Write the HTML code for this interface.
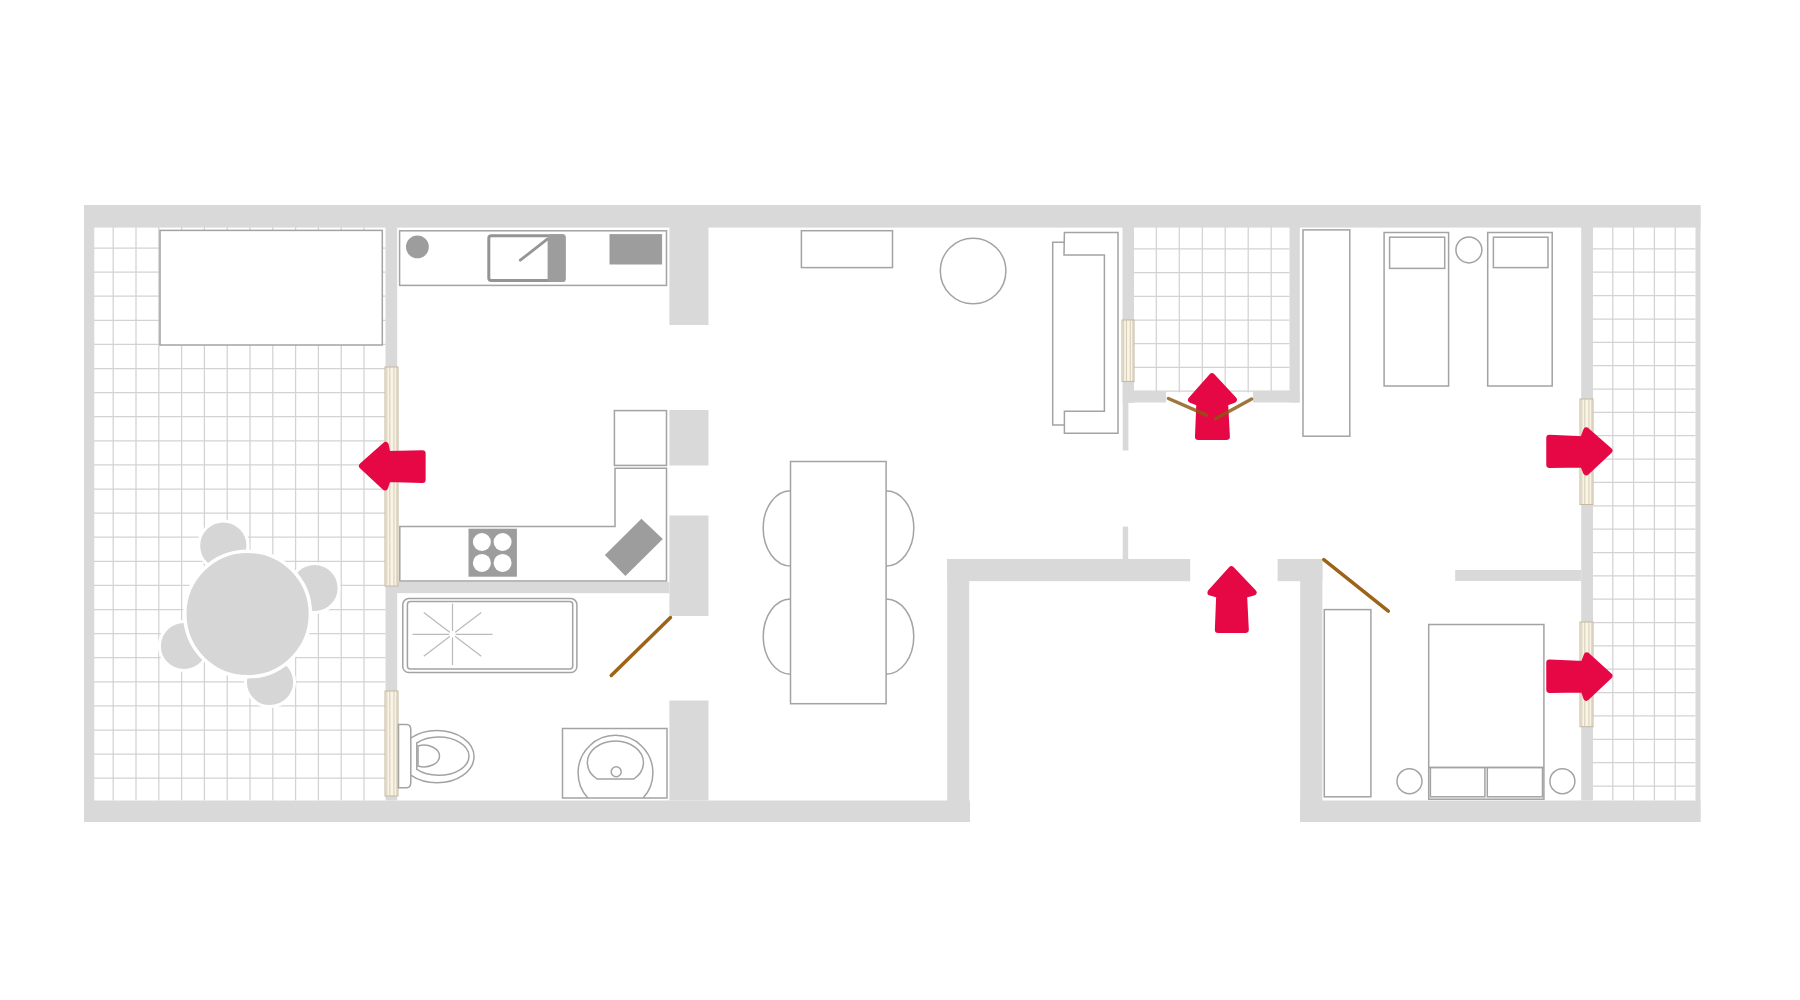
<!DOCTYPE html>
<html><head><meta charset="utf-8"><title>Floor plan</title>
<style>html,body{margin:0;padding:0;background:#fff;width:1800px;height:1000px;overflow:hidden;font-family:"Liberation Sans",sans-serif;}svg{display:block}</style>
</head><body>
<svg width="1800" height="1000" viewBox="0 0 1800 1000">
<rect width="1800" height="1000" fill="#fff"/>
<path d="M113.2 227V800.5M136.0 227V800.5M158.8 227V800.5M181.6 227V800.5M204.4 227V800.5M227.2 227V800.5M250.0 227V800.5M272.8 227V800.5M295.6 227V800.5M318.4 227V800.5M341.2 227V800.5M364.0 227V800.5M94 248.0H385.5M94 272.1H385.5M94 296.2H385.5M94 320.3H385.5M94 344.4H385.5M94 368.5H385.5M94 392.6H385.5M94 416.7H385.5M94 440.8H385.5M94 464.9H385.5M94 489.0H385.5M94 513.1H385.5M94 537.2H385.5M94 561.3H385.5M94 585.4H385.5M94 609.5H385.5M94 633.6H385.5M94 657.7H385.5M94 681.8H385.5M94 705.9H385.5M94 730.0H385.5M94 754.1H385.5M94 778.2H385.5" stroke="#d3d3d3" stroke-width="1.25" fill="none"/>
<path d="M1156.3 227V392.5M1179.3 227V392.5M1202.3 227V392.5M1225.2 227V392.5M1248.2 227V392.5M1271.2 227V392.5M1134 248.9H1289.5M1134 272.6H1289.5M1134 296.3H1289.5M1134 320.0H1289.5M1134 343.7H1289.5M1134 367.4H1289.5M1134 391.1H1289.5" stroke="#d3d3d3" stroke-width="1.25" fill="none"/>
<path d="M1612.8 227V800.5M1633.6 227V800.5M1654.4 227V800.5M1675.2 227V800.5M1593 248.9H1695.5M1593 272.2H1695.5M1593 295.6H1695.5M1593 319.0H1695.5M1593 342.3H1695.5M1593 365.7H1695.5M1593 389.0H1695.5M1593 412.4H1695.5M1593 435.7H1695.5M1593 459.1H1695.5M1593 482.4H1695.5M1593 505.8H1695.5M1593 529.1H1695.5M1593 552.5H1695.5M1593 575.8H1695.5M1593 599.2H1695.5M1593 622.5H1695.5M1593 645.9H1695.5M1593 669.2H1695.5M1593 692.6H1695.5M1593 715.9H1695.5M1593 739.3H1695.5M1593 762.6H1695.5M1593 786.0H1695.5" stroke="#d3d3d3" stroke-width="1.25" fill="none"/>
<rect x="84" y="205" width="1616.5" height="22.6" fill="#d9d9d9" />
<rect x="84" y="205" width="10.3" height="617" fill="#d9d9d9" />
<rect x="84" y="800.5" width="886" height="21.5" fill="#d9d9d9" />
<rect x="1300" y="800.5" width="400.5" height="21.5" fill="#d9d9d9" />
<rect x="1695.5" y="205" width="5.0" height="617" fill="#d9d9d9" />
<rect x="385.5" y="227" width="11.7" height="573.5" fill="#d9d9d9" />
<rect x="397" y="582" width="272.5" height="11.2" fill="#d9d9d9" />
<rect x="669.4" y="227" width="39.1" height="98" fill="#d9d9d9" />
<rect x="669.4" y="410" width="39.1" height="55.5" fill="#d9d9d9" />
<rect x="669.4" y="515.5" width="39.1" height="100.5" fill="#d9d9d9" />
<rect x="669.4" y="700.5" width="39.1" height="100.0" fill="#d9d9d9" />
<rect x="947.2" y="559" width="22.0" height="263" fill="#d9d9d9" />
<rect x="947.2" y="559" width="243.0" height="22.2" fill="#d9d9d9" />
<rect x="1277.6" y="559" width="44.8" height="22.2" fill="#d9d9d9" />
<rect x="1300.2" y="559" width="22.2" height="263" fill="#d9d9d9" />
<rect x="1122.5" y="227" width="11.5" height="176" fill="#d9d9d9" />
<rect x="1122.7" y="403" width="5.7" height="47.5" fill="#d9d9d9" />
<rect x="1122.7" y="526.6" width="5.5" height="32.4" fill="#d9d9d9" />
<rect x="1134" y="391" width="32" height="11.5" fill="#d9d9d9" />
<rect x="1253" y="391" width="46.5" height="11.5" fill="#d9d9d9" />
<rect x="1289.5" y="227" width="10.3" height="175.5" fill="#d9d9d9" />
<rect x="1581.2" y="227" width="11.8" height="573.5" fill="#d9d9d9" />
<rect x="1455.2" y="570" width="126.0" height="11" fill="#d9d9d9" />
<rect x="385" y="367" width="13" height="219" fill="#f9f4e6" stroke="#c4b8a0" stroke-width="1"/>
<path d="M386.82 367V586M389.81 367V586M393.97 367V586M396.83 367V586" stroke="#cdc2ab" stroke-width="0.8" fill="none"/>
<rect x="385" y="691" width="13" height="105" fill="#f9f4e6" stroke="#c4b8a0" stroke-width="1"/>
<path d="M386.82 691V796M389.81 691V796M393.97 691V796M396.83 691V796" stroke="#cdc2ab" stroke-width="0.8" fill="none"/>
<rect x="1122" y="320" width="12" height="61.5" fill="#f9f4e6" stroke="#c4b8a0" stroke-width="1"/>
<path d="M1123.68 320V381.5M1126.44 320V381.5M1130.28 320V381.5M1132.92 320V381.5" stroke="#cdc2ab" stroke-width="0.8" fill="none"/>
<rect x="1580" y="399" width="13" height="105.5" fill="#f9f4e6" stroke="#c4b8a0" stroke-width="1"/>
<path d="M1581.82 399V504.5M1584.81 399V504.5M1588.97 399V504.5M1591.83 399V504.5" stroke="#cdc2ab" stroke-width="0.8" fill="none"/>
<rect x="1580" y="622" width="13" height="104.70000000000005" fill="#f9f4e6" stroke="#c4b8a0" stroke-width="1"/>
<path d="M1581.82 622V726.7M1584.81 622V726.7M1588.97 622V726.7M1591.83 622V726.7" stroke="#cdc2ab" stroke-width="0.8" fill="none"/>
<rect x="160" y="230.4" width="222.3" height="114.6" fill="#fff" stroke="#a3a3a3" stroke-width="1.5"/>
<circle cx="223.3" cy="545.7" r="24.6" fill="#d6d6d6" stroke="#fff" stroke-width="3"/>
<circle cx="314.5" cy="588" r="24.6" fill="#d6d6d6" stroke="#fff" stroke-width="3"/>
<circle cx="184" cy="646" r="24.6" fill="#d6d6d6" stroke="#fff" stroke-width="3"/>
<circle cx="270" cy="682" r="24.6" fill="#d6d6d6" stroke="#fff" stroke-width="3"/>
<circle cx="247.6" cy="614" r="62.8" fill="#d6d6d6" stroke="#fff" stroke-width="3.5"/>
<rect x="399.6" y="230.8" width="266.9" height="54.6" fill="none" stroke="#a3a3a3" stroke-width="1.5"/>
<circle cx="417.4" cy="246.9" r="11.4" fill="#9d9d9d"/>
<rect x="488.8" y="235.7" width="75.3" height="44.7" rx="2.5" fill="#fff" stroke="#949494" stroke-width="3"/>
<rect x="547.6" y="234.2" width="18" height="47.7" rx="2.5" fill="#9d9d9d"/>
<line x1="520.3" y1="260.2" x2="547.3" y2="239.2" stroke="#959595" stroke-width="2.8" stroke-linecap="round"/>
<rect x="609.5" y="234.1" width="52.6" height="30.4" fill="#9d9d9d"/>
<rect x="614.4" y="410.6" width="52.1" height="54.8" fill="none" stroke="#a3a3a3" stroke-width="1.5"/>
<path d="M399.8 526.5H615V468.2H666.5V580.9H399.8Z" fill="none" stroke="#a3a3a3" stroke-width="1.5"/>
<rect x="468.5" y="528.7" width="48.4" height="48" fill="#9d9d9d"/>
<circle cx="481.9" cy="542" r="9" fill="#fff"/>
<circle cx="502.6" cy="542" r="9" fill="#fff"/>
<circle cx="481.9" cy="562.9" r="9" fill="#fff"/>
<circle cx="502.6" cy="562.9" r="9" fill="#fff"/>
<path d="M641.4 518.8L662.8 539L625.4 576L604.9 555.1Z" fill="#9d9d9d"/>
<rect x="402.8" y="598.6" width="174.1" height="73.9" rx="6" fill="none" stroke="#a3a3a3" stroke-width="1.5"/>
<rect x="407.4" y="601.6" width="165.3" height="67.4" rx="3" fill="none" stroke="#a3a3a3" stroke-width="1.5"/>
<path d="M412.5 634.3H492.5M452.5 603.5V665M423.75 612.5L481.25 656.25M423.75 656.25L481.25 612.5" stroke="#bababa" stroke-width="1.2" fill="none"/>
<circle cx="452.5" cy="634.3" r="3.2" fill="#fff"/>
<line x1="611.25" y1="675.5" x2="670.5" y2="617.5" stroke="#9b6418" stroke-width="3.5" stroke-linecap="round"/>
<path d="M398.5 724.5H406.8Q410.8 724.5 410.8 730V782.2Q410.8 787.7 406.8 787.7H398.5Z" fill="#fff" stroke="#a3a3a3" stroke-width="1.5"/>
<path d="M410.8 738A37.1 26.2 0 1 1 410.8 775.2" fill="none" stroke="#a3a3a3" stroke-width="1.5"/>
<path d="M416.8 743A30.3 19.1 0 1 1 416.8 769.4Z" fill="none" stroke="#a3a3a3" stroke-width="1.5"/>
<path d="M418 746A15.5 10.85 0 1 1 418 766Z" fill="none" stroke="#a3a3a3" stroke-width="1.5"/>
<rect x="562.5" y="728.5" width="104.5" height="69.5" fill="none" stroke="#a3a3a3" stroke-width="1.5"/>
<path d="M587.9 798A37.4 37.4 0 1 1 643.1 798" fill="none" stroke="#a3a3a3" stroke-width="1.5"/>
<path d="M597 779A28.05 21.7 0 1 1 633.8 779Z" fill="none" stroke="#a3a3a3" stroke-width="1.5"/>
<circle cx="616.2" cy="771.7" r="5" fill="none" stroke="#a3a3a3" stroke-width="1.5"/>
<rect x="801.4" y="230.7" width="91.1" height="36.9" fill="none" stroke="#a3a3a3" stroke-width="1.5"/>
<circle cx="973.1" cy="271" r="32.8" fill="none" stroke="#a3a3a3" stroke-width="1.5"/>
<path d="M1064.4 232.6H1118V433.3H1064.4V411.2H1104.4V255.1H1064Z" fill="none" stroke="#a3a3a3" stroke-width="1.5"/>
<path d="M1064.4 242.2H1052.7V425H1064.4" fill="none" stroke="#a3a3a3" stroke-width="1.5"/>
<rect x="790.5" y="461.5" width="95.6" height="242.2" fill="none" stroke="#a3a3a3" stroke-width="1.5"/>
<path d="M790.5 490.75A27.3 37.6 0 0 0 790.5 565.95" fill="none" stroke="#a3a3a3" stroke-width="1.5"/>
<path d="M886.1 490.75A27.7 37.6 0 0 1 886.1 565.95" fill="none" stroke="#a3a3a3" stroke-width="1.5"/>
<path d="M790.5 599.00A27.3 37.6 0 0 0 790.5 674.20" fill="none" stroke="#a3a3a3" stroke-width="1.5"/>
<path d="M886.1 599.00A27.7 37.6 0 0 1 886.1 674.20" fill="none" stroke="#a3a3a3" stroke-width="1.5"/>
<rect x="1303" y="229.9" width="46.8" height="206.3" fill="none" stroke="#a3a3a3" stroke-width="1.5"/>
<rect x="1384.1" y="232.5" width="64.5" height="153.5" fill="none" stroke="#a3a3a3" stroke-width="1.5"/>
<rect x="1389.6" y="237.2" width="55.1" height="31.2" fill="none" stroke="#a3a3a3" stroke-width="1.5"/>
<circle cx="1468.9" cy="249.9" r="13" fill="none" stroke="#a3a3a3" stroke-width="1.5"/>
<rect x="1487.7" y="232.5" width="64.5" height="153.5" fill="none" stroke="#a3a3a3" stroke-width="1.5"/>
<rect x="1493.4" y="237.2" width="54.6" height="30.4" fill="none" stroke="#a3a3a3" stroke-width="1.5"/>
<line x1="1323.8" y1="559.6" x2="1388.3" y2="611.1" stroke="#9b6418" stroke-width="3.5" stroke-linecap="round"/>
<rect x="1324.3" y="609.6" width="46.6" height="187.2" fill="none" stroke="#a3a3a3" stroke-width="1.5"/>
<rect x="1428.7" y="624.5" width="115.2" height="174.7" fill="none" stroke="#a3a3a3" stroke-width="1.5"/>
<path d="M1428.7 767.5H1543.9" fill="none" stroke="#a3a3a3" stroke-width="1.5"/>
<rect x="1430.4" y="767.5" width="54.5" height="29.3" fill="none" stroke="#a3a3a3" stroke-width="1.5"/>
<rect x="1487.3" y="767.5" width="55.2" height="29.3" fill="none" stroke="#a3a3a3" stroke-width="1.5"/>
<circle cx="1409.5" cy="781.2" r="12.5" fill="none" stroke="#a3a3a3" stroke-width="1.5"/>
<circle cx="1562.4" cy="781.2" r="12.5" fill="none" stroke="#a3a3a3" stroke-width="1.5"/>
<path d="M362.16 465.93 L385.55 445.19 L387.40 454.27 L422.44 453.35 L422.44 479.75 L387.71 478.84 L384.96 487.14Z" fill="#e60845" stroke="#e60845" stroke-width="6.4" stroke-linejoin="round"/>
<path d="M1212.03 376.42 L1233.68 399.75 L1224.88 403.02 L1226.71 436.77 L1198.17 436.75 L1199.54 403.06 L1191.19 399.76Z" fill="#e60845" stroke="#e60845" stroke-width="6.4" stroke-linejoin="round"/>
<path d="M1231.44 569.41 L1253.39 592.50 L1243.87 594.82 L1245.62 629.76 L1218.06 629.75 L1219.39 594.88 L1210.66 592.51Z" fill="#e60845" stroke="#e60845" stroke-width="6.4" stroke-linejoin="round"/>
<path d="M1609.22 450.56 L1586.27 472.17 L1583.02 464.37 L1549.47 464.82 L1549.45 438.02 L1583.09 439.39 L1586.38 430.58Z" fill="#e60845" stroke="#e60845" stroke-width="6.4" stroke-linejoin="round"/>
<path d="M1609.23 675.93 L1586.42 697.52 L1583.69 689.37 L1549.48 689.77 L1549.44 662.58 L1583.58 664.31 L1586.86 655.51Z" fill="#e60845" stroke="#e60845" stroke-width="6.4" stroke-linejoin="round"/>
<path d="M1168.4 398.5L1206.6 415.1M1251.6 399L1215.6 418.7" stroke="#8a5810" stroke-opacity="0.82" stroke-width="3.4" stroke-linecap="round"/>
</svg>
</body></html>
